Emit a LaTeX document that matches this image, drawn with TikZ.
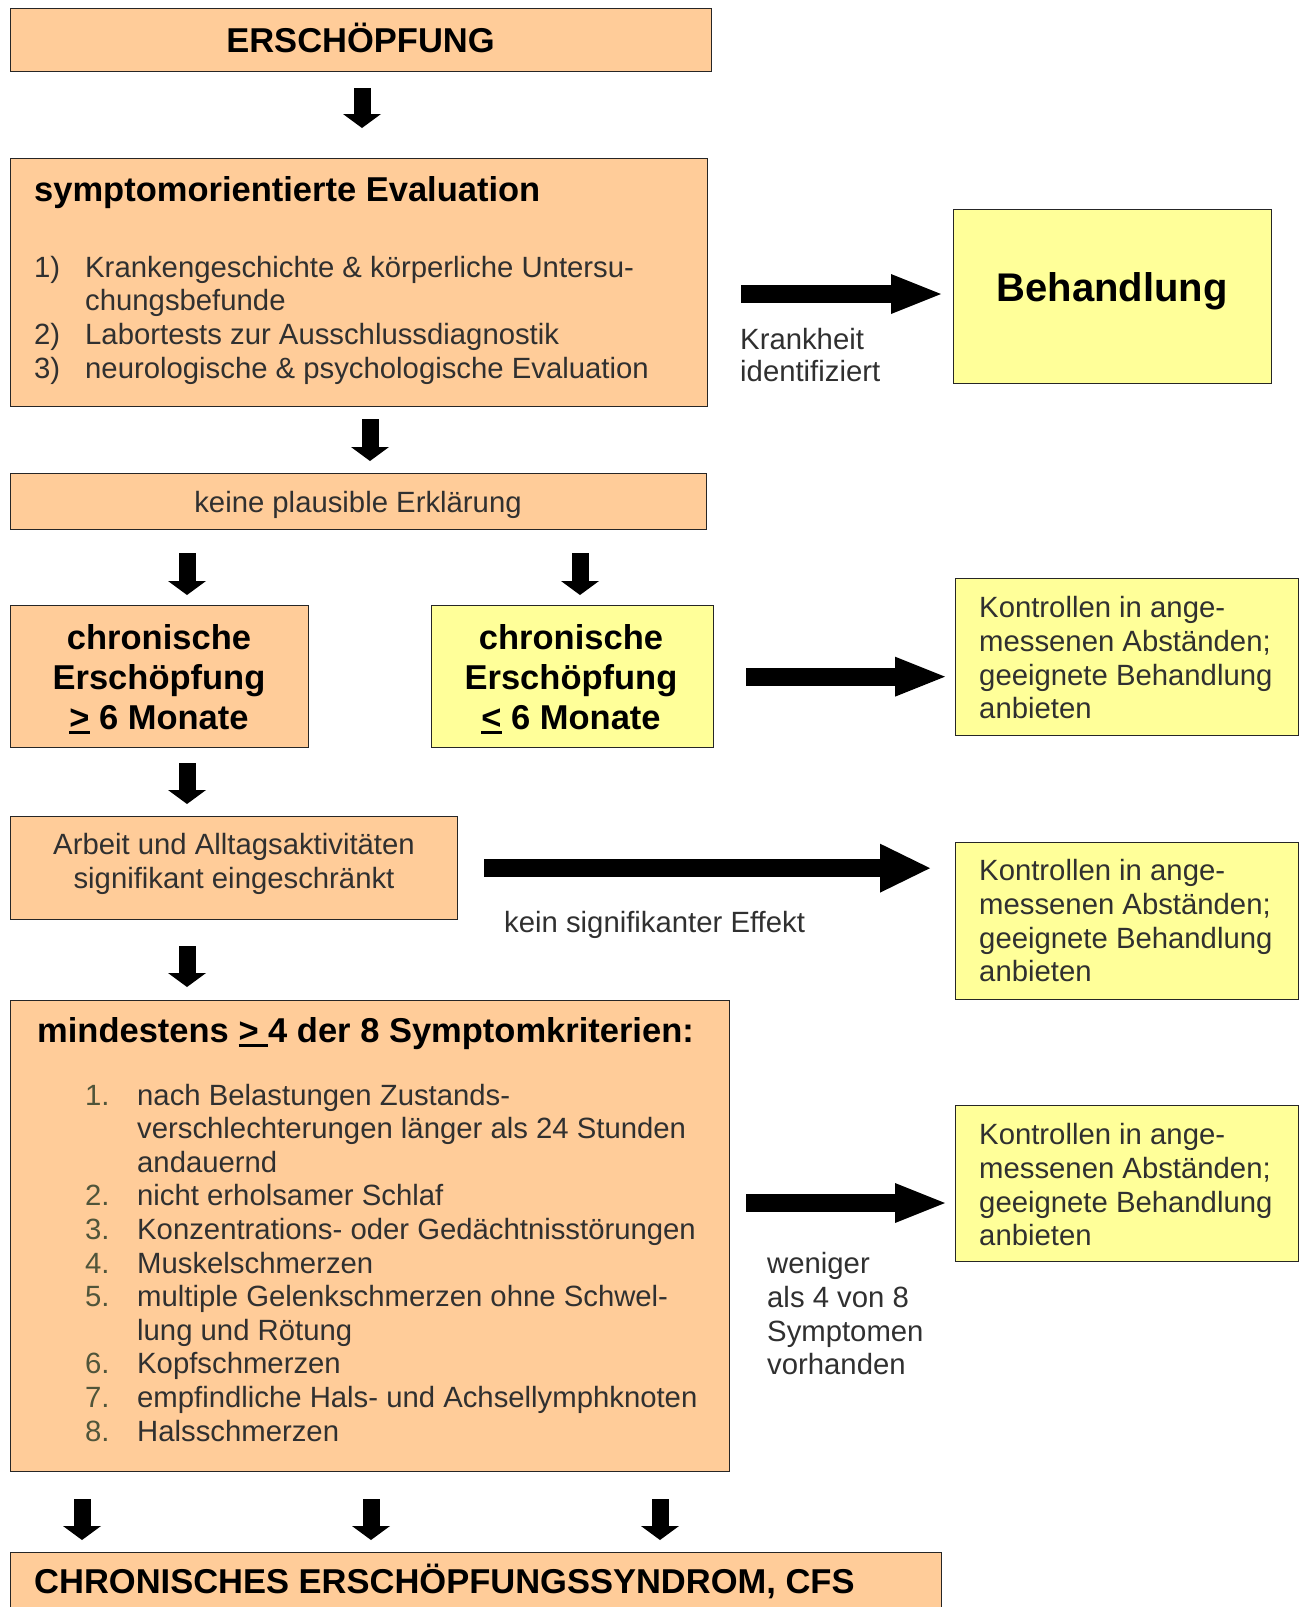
\documentclass[tikz,border=0pt]{standalone}
\usepackage{fontspec}
\setmainfont{Liberation Sans}
\usetikzlibrary{arrows.meta}
\definecolor{orangefill}{HTML}{FFCC99}
\definecolor{yellowfill}{HTML}{FFFF99}
\definecolor{txtgray}{HTML}{303030}
\definecolor{numcol}{HTML}{50553A}
\newcommand\myfn{\fontsize{29.3pt}{33.6pt}\selectfont}
\newcommand\myfb{\fontsize{34.5pt}{39.5pt}\selectfont\bfseries}
\newcommand\myfbig{\fontsize{40pt}{46pt}\selectfont\bfseries}
\newcommand\ulsym[1]{\setbox0\hbox{#1}\rlap{\rule[-5pt]{\wd0}{3pt}}\box0\relax}
\begin{document}
\begin{tikzpicture}[x=1pt,y=-1pt,
  box/.style={draw=black!85, line width=1.3pt, anchor=north west, inner sep=0pt},
  org/.style={box, fill=orangefill},
  yel/.style={box, fill=yellowfill},
  tn/.style={font=\myfn, text=txtgray, inner sep=0pt, anchor=base west},
  tnc/.style={tn, anchor=base},
  tb/.style={font=\myfb, text=black, inner sep=0pt, anchor=base west},
  tbc/.style={tb, anchor=base},
  num/.style={tn, text=numcol},
  darr/.style={draw=black, line width=17pt, -{Triangle[width=38pt,length=14pt,line width=0pt]}},
  rarr/.style={draw=black, line width=18pt, -{Triangle[width=40pt,length=50pt,line width=0pt]}},
  larr/.style={draw=black, line width=18pt, -{Triangle[width=49pt,length=50pt,line width=0pt]}}
]
\useasboundingbox (0,0) rectangle (1302,1607);
\clip (0,0) rectangle (1302,1607);
\fill[white] (0,0) rectangle (1302,1607);

% boxes
\node[org, minimum width=701pt, minimum height=63pt] (ersch) at (10,8) {};
\node[org, minimum width=697pt, minimum height=248pt] (eval) at (10,158) {};
\node[yel, minimum width=318pt, minimum height=174pt] (behand) at (953,209) {};
\node[org, minimum width=696pt, minimum height=56pt] (keine) at (10,473) {};
\node[org, minimum width=298pt, minimum height=142pt] (chron1) at (10,605) {};
\node[yel, minimum width=282pt, minimum height=142pt] (chron2) at (431,605) {};
\node[yel, minimum width=343pt, minimum height=157pt] (kontr1) at (955,578) {};
\node[org, minimum width=447pt, minimum height=103pt] (arbeit) at (10,816) {};
\node[yel, minimum width=343pt, minimum height=157pt] (kontr2) at (955,842) {};
\node[org, minimum width=719pt, minimum height=471pt] (mind) at (10,1000) {};
\node[yel, minimum width=343pt, minimum height=156pt] (kontr3) at (955,1105) {};
\node[org, minimum width=931pt, minimum height=70pt] (cfs) at (10,1552) {};

% helper coordinates
\coordinate (x362) at (362,0);
\coordinate (x370) at (370,0);
\coordinate (x187) at (187,0);
\coordinate (x580) at (580,0);
\coordinate (x82) at (82,0);
\coordinate (x371) at (371,0);
\coordinate (x660) at (660,0);
\coordinate (y294) at (0,294);
\coordinate (y1203) at (0,1203);

% texts
\node[tbc] (tersch) at (360.5,52) {ERSCHÖPFUNG};

\node[tb] (tevt) at (34,201) {symptomorientierte Evaluation};
\node[tn] (ten1) at (34,277) {1)};
\node[tn] (tel1) at (85,277) {Krankengeschichte \& körperliche Untersu-};
\node[tn] (tel1b) at (85,310.5) {chungsbefunde};
\node[tn] (ten2) at (34,344) {2)};
\node[tn] (tel2) at (85,344) {Labortests zur Ausschlussdiagnostik};
\node[tn] (ten3) at (34,378) {3)};
\node[tn] (tel3) at (85,378) {neurologische \& psychologische Evaluation};

\node[tn] (tkr1) at (740,349) {Krankheit};
\node[tn] (tkr2) at (740,381) {identifiziert};

\node[font=\myfbig, inner sep=0pt, anchor=base] (tbeh) at (1112,301) {Behandlung};

\node[tnc] (tkeine) at (358,512) {keine plausible Erklärung};

\node[tbc] (tc1a) at (159,649) {chronische};
\node[tbc] (tc1b) at (159,689) {Erschöpfung};
\node[tbc] (tc1c) at (159,729) {\ulsym{>} 6 Monate};
\node[tbc] (tc2a) at (571,649) {chronische};
\node[tbc] (tc2b) at (571,689) {Erschöpfung};
\node[tbc] (tc2c) at (571,729) {\ulsym{<} 6 Monate};

\node[tn] (tk1a) at (979,617) {Kontrollen in ange-};
\node[tn] (tk1b) at (979,651) {messenen Abständen;};
\node[tn] (tk1c) at (979,685) {geeignete Behandlung};
\node[tn] (tk1d) at (979,718) {anbieten};

\node[tnc] (tarb1) at (234,854) {Arbeit und Alltagsaktivitäten};
\node[tnc] (tarb2) at (234,888) {signifikant eingeschränkt};

\node[tn] (tkein) at (504,932) {kein signifikanter Effekt};

\node[tn] (tk2a) at (979,880) {Kontrollen in ange-};
\node[tn] (tk2b) at (979,914) {messenen Abständen;};
\node[tn] (tk2c) at (979,948) {geeignete Behandlung};
\node[tn] (tk2d) at (979,981) {anbieten};

\node[tb] (tmind) at (37,1042) {mindestens \ulsym{> }4 der 8 Symptomkriterien:};
\node[num] (tm1n) at (85,1105) {1.};
\node[tn] (tm1a) at (137,1105) {nach Belastungen Zustands-};
\node[tn] (tm1b) at (137,1138.6) {verschlechterungen länger als 24 Stunden};
\node[tn] (tm1c) at (137,1172.2) {andauernd};
\node[num] (tm2n) at (85,1205.8) {2.};
\node[tn] (tm2) at (137,1205.8) {nicht erholsamer Schlaf};
\node[num] (tm3n) at (85,1239.4) {3.};
\node[tn] (tm3) at (137,1239.4) {Konzentrations- oder Gedächtnisstörungen};
\node[num] (tm4n) at (85,1273) {4.};
\node[tn] (tm4) at (137,1273) {Muskelschmerzen};
\node[num] (tm5n) at (85,1306.6) {5.};
\node[tn] (tm5a) at (137,1306.6) {multiple Gelenkschmerzen ohne Schwel-};
\node[tn] (tm5b) at (137,1340.2) {lung und Rötung};
\node[num] (tm6n) at (85,1373.8) {6.};
\node[tn] (tm6) at (137,1373.8) {Kopfschmerzen};
\node[num] (tm7n) at (85,1407.4) {7.};
\node[tn] (tm7) at (137,1407.4) {empfindliche Hals- und Achsellymphknoten};
\node[num] (tm8n) at (85,1441) {8.};
\node[tn] (tm8) at (137,1441) {Halsschmerzen};

\node[tn] (tw1) at (767,1273) {weniger};
\node[tn] (tw2) at (767,1307) {als 4 von 8};
\node[tn] (tw3) at (767,1341) {Symptomen};
\node[tn] (tw4) at (767,1374) {vorhanden};

\node[tn] (tk3a) at (979,1144) {Kontrollen in ange-};
\node[tn] (tk3b) at (979,1178) {messenen Abständen;};
\node[tn] (tk3c) at (979,1212) {geeignete Behandlung};
\node[tn] (tk3d) at (979,1245) {anbieten};

\node[tb] (tcfs) at (34,1593) {CHRONISCHES ERSCHÖPFUNGSSYNDROM, CFS};

% arrows
\draw[darr, shorten <=16pt, shorten >=30pt] (ersch.south -| x362) -- (eval.north -| x362);
\draw[darr, shorten <=12pt, shorten >=12pt] (eval.south -| x370) -- (keine.north -| x370);
\draw[darr, shorten <=23pt, shorten >=10pt] (keine.south -| x187) -- (chron1.north -| x187);
\draw[darr, shorten <=23pt, shorten >=10pt] (keine.south -| x580) -- (chron2.north -| x580);
\draw[darr, shorten <=15pt, shorten >=12pt] (chron1.south -| x187) -- (arbeit.north -| x187);
\draw[darr, shorten <=26pt, shorten >=13pt] (arbeit.south -| x187) -- (mind.north -| x187);
\draw[darr, shorten <=27pt, shorten >=12pt] (mind.south -| x82) -- (cfs.north -| x82);
\draw[darr, shorten <=27pt, shorten >=12pt] (mind.south -| x371) -- (cfs.north -| x371);
\draw[darr, shorten <=27pt, shorten >=12pt] (mind.south -| x660) -- (cfs.north -| x660);

\draw[rarr, shorten <=33pt, shorten >=12pt] (eval.east |- y294) -- (behand.west |- y294);
\draw[rarr, shorten <=32pt, shorten >=10pt] (chron2.east) -- (chron2.east -| kontr1.west);
\draw[larr, shorten <=26pt, shorten >=25pt] (arbeit.east) -- (arbeit.east -| kontr2.west);
\draw[rarr, shorten <=16pt, shorten >=10pt] (mind.east |- y1203) -- (kontr3.west |- y1203);
\end{tikzpicture}
\end{document}
